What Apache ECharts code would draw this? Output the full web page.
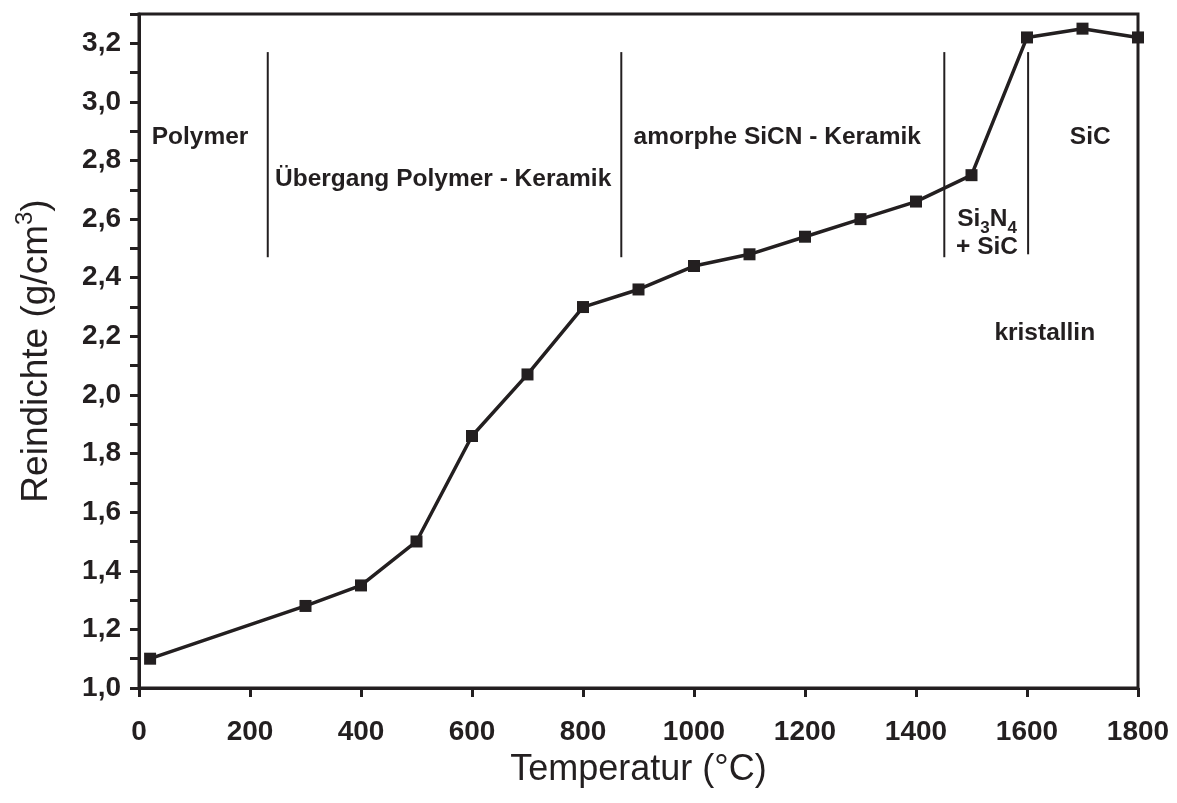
<!DOCTYPE html>
<html>
<head>
<meta charset="utf-8">
<script src="https://cdn.jsdelivr.net/npm/echarts@6/dist/echarts.min.js"></script>
<style>html,body{margin:0;padding:0;background:#fff}#c{width:1177px;height:803px}</style>
</head>
<body>
<div id="c"></div>
<script>
// Data
var temperature = [20, 300, 400, 500, 600, 700, 800, 900, 1000, 1100, 1200, 1300, 1400, 1500, 1600, 1700, 1800];
var density = [1.10, 1.28, 1.35, 1.50, 1.86, 2.07, 2.30, 2.36, 2.44, 2.48, 2.54, 2.60, 2.66, 2.75, 3.22, 3.25, 3.22];
var xTicks = [0, 200, 400, 600, 800, 1000, 1200, 1400, 1600, 1800];
var yTicks = [1.0, 1.2, 1.4, 1.6, 1.8, 2.0, 2.2, 2.4, 2.6, 2.8, 3.0, 3.2];
// region boundaries (x position, y bottom, y top)
var boundaryX = [232, 869, 1451, 1602];
var boundaryYBottom = [2.47, 2.47, 2.47, 2.48];
var boundaryYTop = [3.17, 3.17, 3.17, 3.17];
// annotations
var annotationTexts = ['Polymer', 'Übergang Polymer - Keramik', 'amorphe SiCN - Keramik', 'SiC', '{b|Si}{s|3}{b|N}{s|4}', '+ SiC', 'kristallin'];
var annotationX = [110, 548, 1150, 1714, 1528, 1528, 1632];
var annotationY = [2.88, 2.735, 2.88, 2.88, 2.59, 2.505, 2.21];

var ink = '#231f20';
var font = 'Liberation Sans, Arial, sans-serif';
var chart = echarts.init(document.getElementById('c'));

var series = [{
  type: 'line',
  data: temperature.map(function (t, i) { return [t, density[i]]; }),
  symbol: 'rect',
  symbolSize: 12,
  lineStyle: { color: ink, width: 3.5 },
  itemStyle: { color: ink, opacity: 1 },
  z: 5
}];
boundaryX.forEach(function (x, i) {
  series.push({
    type: 'line',
    data: [[x, boundaryYBottom[i]], [x, boundaryYTop[i]]],
    symbol: 'none',
    lineStyle: { color: ink, width: 2 },
    silent: true,
    z: 3
  });
});
series.push({
  type: 'scatter',
  symbolSize: 0,
  itemStyle: { opacity: 1, color: 'transparent' },
  data: annotationTexts.map(function (t, i) { return { name: t, value: [annotationX[i], annotationY[i]] }; }),
  label: {
    show: true,
    position: 'inside',
    formatter: function (p) { return p.name; },
    color: ink,
    opacity: 1,
    fontFamily: font,
    fontWeight: 'bold',
    fontSize: 24.5,
    rich: {
      b: { fontFamily: font, fontWeight: 'bold', fontSize: 24.5, color: ink, lineHeight: 30, verticalAlign: 'top' },
      s: { fontFamily: font, fontWeight: 'bold', fontSize: 17, color: ink, lineHeight: 17, verticalAlign: 'bottom' }
    }
  },
  emphasis: { disabled: true },
  silent: true,
  z: 6
});

chart.setOption({
  animation: false,
  backgroundColor: '#fff',
  grid: { left: 139, right: 39, top: 14, bottom: 115, show: true, borderColor: ink, borderWidth: 3, backgroundColor: 'transparent' },
  xAxis: {
    type: 'value', min: 0, max: 1800, interval: 200,
    name: 'Temperatur (°C)', nameLocation: 'middle', nameGap: 64,
    nameTextStyle: { fontFamily: font, fontSize: 36, color: ink },
    axisLine: { show: true, lineStyle: { color: ink, width: 3 } },
    axisTick: { show: true, inside: false, length: 9, lineStyle: { color: ink, width: 3 }, customValues: xTicks },
    axisLabel: {
      margin: 30, fontFamily: font, fontWeight: 'bold', fontSize: 28, color: ink, customValues: xTicks,
      formatter: function (v) { return String(v); }
    },
    splitLine: { show: false }
  },
  yAxis: {
    type: 'value', min: 1.0, max: 3.3, interval: 0.2,
    name: '{a|Reindichte (g/cm}{sup|3}{a|)}', nameLocation: 'middle', nameGap: 84,
    nameTextStyle: {
      rich: {
        a: { fontFamily: font, fontSize: 37, color: ink, lineHeight: 42, verticalAlign: 'bottom' },
        sup: { fontFamily: font, fontSize: 24, color: ink, lineHeight: 24, verticalAlign: 'top' }
      }
    },
    axisLine: { show: true, lineStyle: { color: ink, width: 3 } },
    axisTick: { show: true, inside: false, length: 9, lineStyle: { color: ink, width: 3 } },
    minorTick: { show: true, splitNumber: 2, length: 9, lineStyle: { color: ink, width: 3 } },
    axisLabel: {
      margin: 18, fontFamily: font, fontWeight: 'bold', fontSize: 28, color: ink,
      customValues: yTicks,
      formatter: function (v) { return v.toFixed(1).replace('.', ','); }
    },
    splitLine: { show: false }
  },
  series: series
});
</script>
</body>
</html>
